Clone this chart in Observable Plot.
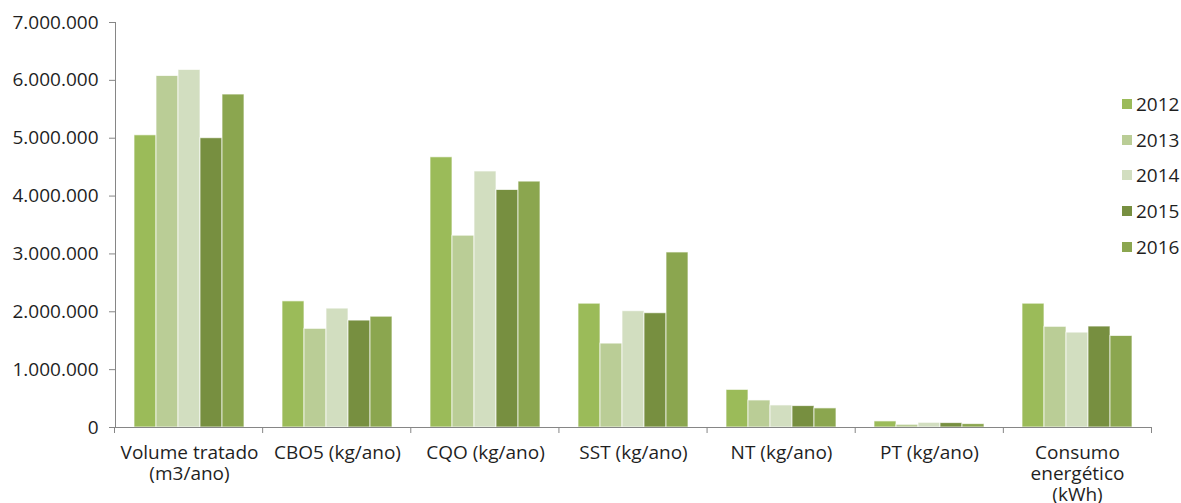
<!DOCTYPE html>
<html>
<head>
<meta charset="utf-8">
<script src="https://cdn.jsdelivr.net/npm/d3@7"></script>
<script src="https://cdn.jsdelivr.net/npm/@observablehq/plot@0.6"></script>
<style>
  html, body { margin: 0; padding: 0; background: #fff; }
  #wrap { position: relative; width: 1181px; height: 503px; font-family: "Open Sans", sans-serif; }
  #wrap svg text { font-family: "Open Sans", sans-serif; font-size: 19px; fill: #1f1f1f; }
  #legend { position: absolute; left: 1122px; top: 86px; display: flex; flex-direction: column; }
  #legend .item { display: flex; align-items: center; height: 35.7px; font-size: 19px; color: #1f1f1f; }
  #legend .sw { width: 10px; height: 10px; margin-right: 4px; }
</style>
</head>
<body>
<div id="wrap"><div id="legend"></div></div>
<script>
// Indicadores anuais da ETAR, 2012–2016
const categories = [
  "Volume tratado\n(m3/ano)",
  "CBO5 (kg/ano)",
  "CQO (kg/ano)",
  "SST (kg/ano)",
  "NT (kg/ano)",
  "PT (kg/ano)",
  "Consumo\nenergético\n(kWh)"
];
const years = ["2012", "2013", "2014", "2015", "2016"];
const v2012 = [5050000, 2180000, 4670000, 2140000, 650000, 105000, 2140000];
const v2013 = [6075000, 1705000, 3315000, 1450000, 467000, 47000, 1740000];
const v2014 = [6180000, 2055000, 4425000, 2010000, 381000, 81000, 1640000];
const v2015 = [5000000, 1848000, 4105000, 1975000, 370000, 76000, 1745000];
const v2016 = [5755000, 1915000, 4250000, 3025000, 330000, 59000, 1582000];
const yTicks = [0, 1000000, 2000000, 3000000, 4000000, 5000000, 6000000, 7000000];
const colors = ["#9bbb59", "#bacd96", "#d2dec0", "#778f40", "#8ba64f"];

const series = [v2012, v2013, v2014, v2015, v2016];
const rows = categories.flatMap((categoria, i) =>
  years.map((ano, j) => ({categoria, ano, valor: series[j][i]}))
);

const pt = d3.formatLocale({decimal: ",", thousands: ".", grouping: [3], currency: ["", ""]});
const fmt = pt.format(",d");
const axisGray = "#868686";

const chart = Plot.plot({
  width: 1181,
  height: 503,
  marginLeft: 114,
  marginRight: 30,
  marginTop: 22,
  marginBottom: 76,
  style: {color: axisGray, fontFamily: "Open Sans, sans-serif", fontSize: "19px", background: "#fff"},
  fx: {domain: categories, padding: 0, axis: null, label: null},
  x: {domain: years, paddingInner: 0, paddingOuter: 0.75, axis: null},
  y: {domain: [0, 7000000], ticks: yTicks, tickFormat: fmt, tickSize: 6, tickPadding: 11, line: true, label: null},
  color: {domain: years, range: colors},
  marks: [
    Plot.barY(rows, {fx: "categoria", x: "ano", y: "valor", fill: "ano", stroke: "#ffffff", strokeOpacity: 0.7, strokeWidth: 1}),
    Plot.ruleY([0], {stroke: axisGray}),
    Plot.text(categories, {fx: d => d, text: d => d, frameAnchor: "bottom", lineAnchor: "top", dy: 17, lineHeight: 1.1, fill: "#1f1f1f"})
  ]
});

// category boundary ticks below the baseline, taken from the fx band scale
const fxd = chart.scale("fx");
const y0 = Plot.scale({y: chart.scale("y")}).apply(0);
const n = fxd.domain.length;
const [r0, r1] = fxd.range;
const step = (r1 - r0) / n;
d3.select(chart).append("g")
  .attr("stroke", axisGray)
  .selectAll("line")
  .data(d3.range(n + 1))
  .join("line")
  .attr("x1", i => r0 + i * step + 0.5)
  .attr("x2", i => r0 + i * step + 0.5)
  .attr("y1", y0)
  .attr("y2", y0 + 6);

document.getElementById("wrap").prepend(chart);

// vertical legend on the right
const legend = d3.select("#legend");
years.forEach((yr, j) => {
  const item = legend.append("div").attr("class", "item");
  item.append("div").attr("class", "sw").style("background", colors[j]);
  item.append("span").text(yr);
});
</script>
</body>
</html>
